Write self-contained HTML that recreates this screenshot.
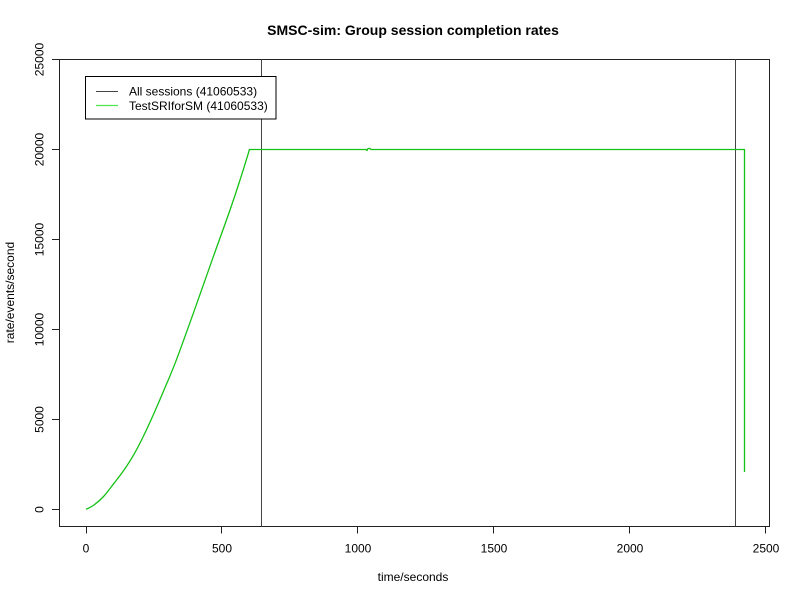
<!DOCTYPE html>
<html>
<head>
<meta charset="utf-8">
<style>
  html, body { margin:0; padding:0; background:#fff; }
  svg { display:block; }
  text { font-family: "Liberation Sans", "DejaVu Sans", sans-serif; fill:#000; }
</style>
</head>
<body>
<svg width="800" height="600" viewBox="0 0 800 600" xmlns="http://www.w3.org/2000/svg">
  <rect x="0" y="0" width="800" height="600" fill="#fff"/>

  <!-- Title -->
  <text x="413" y="35" font-size="14" font-weight="bold" text-anchor="middle">SMSC-sim: Group session completion rates</text>

  <!-- Plot box -->
  <rect x="59.5" y="59.5" width="710" height="467" fill="none" stroke="#222" stroke-width="1"/>

  <!-- Y axis -->
  <g stroke="#222" stroke-width="1">
    <line x1="59.5" y1="59.5" x2="59.5" y2="509.5"/>
    <line x1="52" y1="509.5" x2="59.5" y2="509.5"/>
    <line x1="52" y1="419.5" x2="59.5" y2="419.5"/>
    <line x1="52" y1="329.5" x2="59.5" y2="329.5"/>
    <line x1="52" y1="239.5" x2="59.5" y2="239.5"/>
    <line x1="52" y1="149.5" x2="59.5" y2="149.5"/>
    <line x1="52" y1="59.5" x2="59.5" y2="59.5"/>
  </g>
  <g font-size="12" text-anchor="middle">
    <text transform="translate(43.5,509.5) rotate(-90)">0</text>
    <text transform="translate(43.5,419.5) rotate(-90)">5000</text>
    <text transform="translate(43.5,329.5) rotate(-90)">10000</text>
    <text transform="translate(43.5,239.5) rotate(-90)">15000</text>
    <text transform="translate(43.5,149.5) rotate(-90)">20000</text>
    <text transform="translate(43.5,59.5) rotate(-90)">25000</text>
  </g>
  <text transform="translate(14,292.5) rotate(-90)" font-size="12" text-anchor="middle">rate/events/second</text>

  <!-- X axis -->
  <g stroke="#222" stroke-width="1">
    <line x1="86" y1="526.5" x2="765.5" y2="526.5"/>
    <line x1="86.5" y1="526.5" x2="86.5" y2="533.5"/>
    <line x1="221.5" y1="526.5" x2="221.5" y2="533.5"/>
    <line x1="357.5" y1="526.5" x2="357.5" y2="533.5"/>
    <line x1="493.5" y1="526.5" x2="493.5" y2="533.5"/>
    <line x1="629.5" y1="526.5" x2="629.5" y2="533.5"/>
    <line x1="765.5" y1="526.5" x2="765.5" y2="533.5"/>
  </g>
  <g font-size="12" text-anchor="middle">
    <text x="86" y="552.5">0</text>
    <text x="222" y="552.5">500</text>
    <text x="358" y="552.5">1000</text>
    <text x="494" y="552.5">1500</text>
    <text x="630" y="552.5">2000</text>
    <text x="766" y="552.5">2500</text>
  </g>
  <text x="413" y="581" font-size="12" text-anchor="middle">time/seconds</text>

  <!-- Vertical marker lines -->
  <g stroke="#444" stroke-width="1">
    <line x1="261.5" y1="59.5" x2="261.5" y2="526.5"/>
    <line x1="735.5" y1="59.5" x2="735.5" y2="526.5"/>
  </g>

  <!-- TestSRIforSM (covers All sessions) -->
  <path fill="none" stroke="#14c214" stroke-width="1.3" stroke-linejoin="round"
    d="M86,509.3
       C87.3,508.6 91,507.2 94,505
       C97,502.8 100.7,499.6 104,496
       C107.3,492.4 110.7,487.6 114,483.3
       C117.3,479 120.7,474.8 124,470
       C127.3,465.2 130.7,460.1 134,454.3
       C137.3,448.5 140.7,441.8 144,435
       C147.3,428.2 150.7,420.8 154,413.3
       C157.3,405.8 160.4,398.6 164,390
       C167.6,381.4 170.8,374.5 175.7,361.7
       C180.6,348.9 187,330.8 193.3,313.3
       C199.6,295.8 207.2,273.9 213.3,256.7
       C219.4,239.5 225.6,222.8 230,210
       C234.5,197.2 236.8,190.1 240,180
       C243.3,169.9 247.9,154.6 249.5,149.5
       L366,149.5 L367,150.5 L368,148.5 L370,148.5 L371,149.5
       L744.5,149.5 L744.5,472"/>

  <!-- Legend -->
  <rect x="85.5" y="76.5" width="190.5" height="42.5" fill="#fff" stroke="#000" stroke-width="1"/>
  <line x1="96" y1="91.5" x2="118" y2="91.5" stroke="#444" stroke-width="1"/>
  <line x1="96" y1="105.5" x2="118" y2="105.5" stroke="#4ee84e" stroke-width="1.2"/>
  <text x="129" y="95.5" font-size="12">All sessions (41060533)</text>
  <text x="129" y="110" font-size="12">TestSRIforSM (41060533)</text>
</svg>
</body>
</html>
